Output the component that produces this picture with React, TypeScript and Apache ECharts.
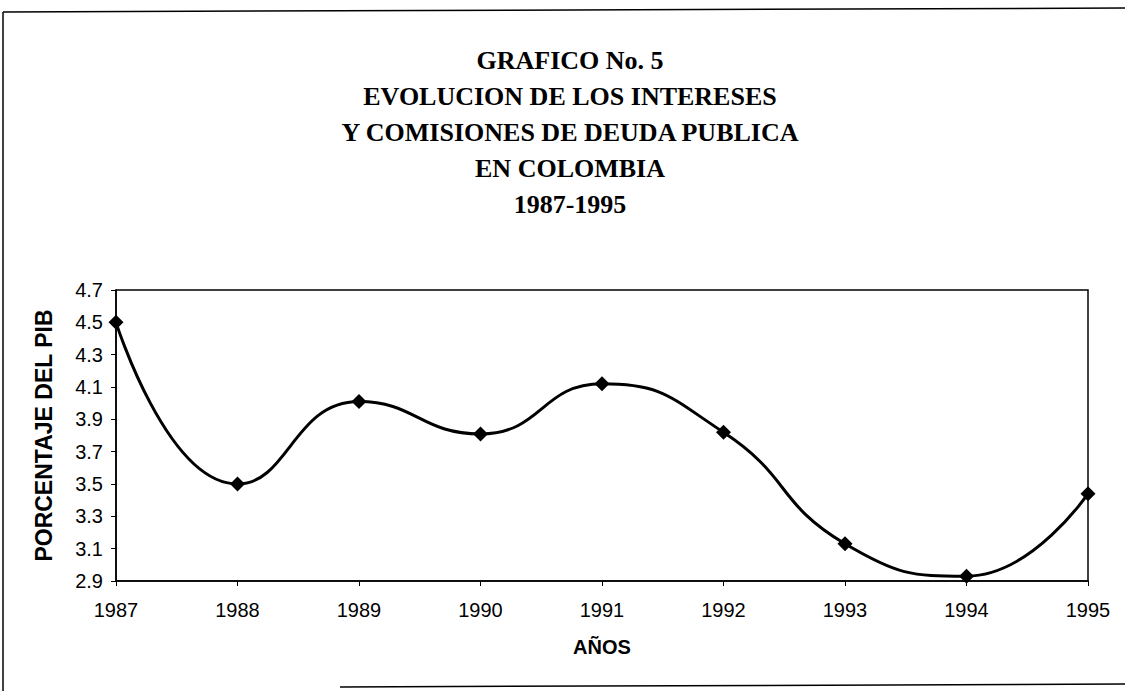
import React, { useEffect, useRef } from "react";
import * as echarts from "echarts";

const years: string[] = ["1987", "1988", "1989", "1990", "1991", "1992", "1993", "1994", "1995"];
const values: number[] = [4.5, 3.5, 4.01, 3.81, 4.12, 3.82, 3.13, 2.93, 3.44];
const titleLines: string[] = [
  "GRAFICO No. 5",
  "EVOLUCION DE LOS INTERESES",
  "Y COMISIONES DE DEUDA PUBLICA",
  "EN COLOMBIA",
  "1987-1995",
];
const yAxisName = "PORCENTAJE DEL PIB";
const xAxisName = "AÑOS";

export default function App() {
  const ref = useRef<HTMLDivElement>(null);
  useEffect(() => {
    if (!ref.current) return;
    const chart = echarts.init(ref.current, null, { renderer: "svg" });
    chart.setOption({
      animation: false,
      backgroundColor: "#ffffff",
      title: {
        text: titleLines.join("\n"),
        left: 565,
        textAlign: "center",
        top: 37,
        textStyle: {
          fontFamily: "Liberation Serif",
          fontWeight: "bold",
          fontSize: 26,
          lineHeight: 36,
          color: "#000",
        },
      },
      grid: {
        left: 116,
        right: 37,
        top: 290,
        bottom: 110,
        show: true,
        borderColor: "#000",
        borderWidth: 1.5,
        backgroundColor: "transparent",
      },
      xAxis: {
        type: "category",
        data: years,
        boundaryGap: false,
        name: xAxisName,
        nameLocation: "middle",
        nameGap: 56,
        nameTextStyle: {
          fontFamily: "Liberation Sans",
          fontWeight: "bold",
          fontSize: 20,
          color: "#000",
        },
        axisLine: { lineStyle: { color: "#000", width: 1.5 } },
        axisTick: { show: true, length: 5, lineStyle: { color: "#000" } },
        axisLabel: {
          fontFamily: "Liberation Sans",
          fontSize: 20,
          color: "#000",
          margin: 19,
          interval: 0,
        },
        splitLine: { show: false },
      },
      yAxis: {
        type: "value",
        min: 2.9,
        max: 4.7,
        interval: 0.2,
        name: yAxisName,
        nameLocation: "middle",
        nameGap: 61,
        nameRotate: 90,
        nameTextStyle: {
          fontFamily: "Liberation Sans",
          fontWeight: "bold",
          fontSize: 23,
          color: "#000",
        },
        axisLine: { show: true, lineStyle: { color: "#000", width: 1.5 } },
        axisTick: { show: true, length: 5, lineStyle: { color: "#000" } },
        axisLabel: {
          fontFamily: "Liberation Sans",
          fontSize: 20,
          color: "#000",
          margin: 13,
          formatter: (v: number) => v.toFixed(1),
        },
        splitLine: { show: false },
      },
      series: [
        {
          type: "line",
          data: values,
          smooth: 0.5,
          symbol: "diamond",
          symbolSize: 15,
          itemStyle: { color: "#000" },
          lineStyle: { color: "#000", width: 3 },
        },
      ],
      graphic: [
        { type: "line", shape: { x1: 3, y1: 12, x2: 1125, y2: 8 }, style: { stroke: "#000", lineWidth: 1.5 } },
        { type: "line", shape: { x1: 3, y1: 12, x2: 3, y2: 691 }, style: { stroke: "#000", lineWidth: 1.5 } },
        { type: "line", shape: { x1: 340, y1: 687, x2: 1125, y2: 684 }, style: { stroke: "#000", lineWidth: 1.5 } },
      ],
    });
    return () => chart.dispose();
  }, []);
  return (
    <div
      ref={ref}
      style={{ position: "fixed", left: 0, top: 0, width: 1125, height: 691, background: "#fff" }}
    />
  );
}
